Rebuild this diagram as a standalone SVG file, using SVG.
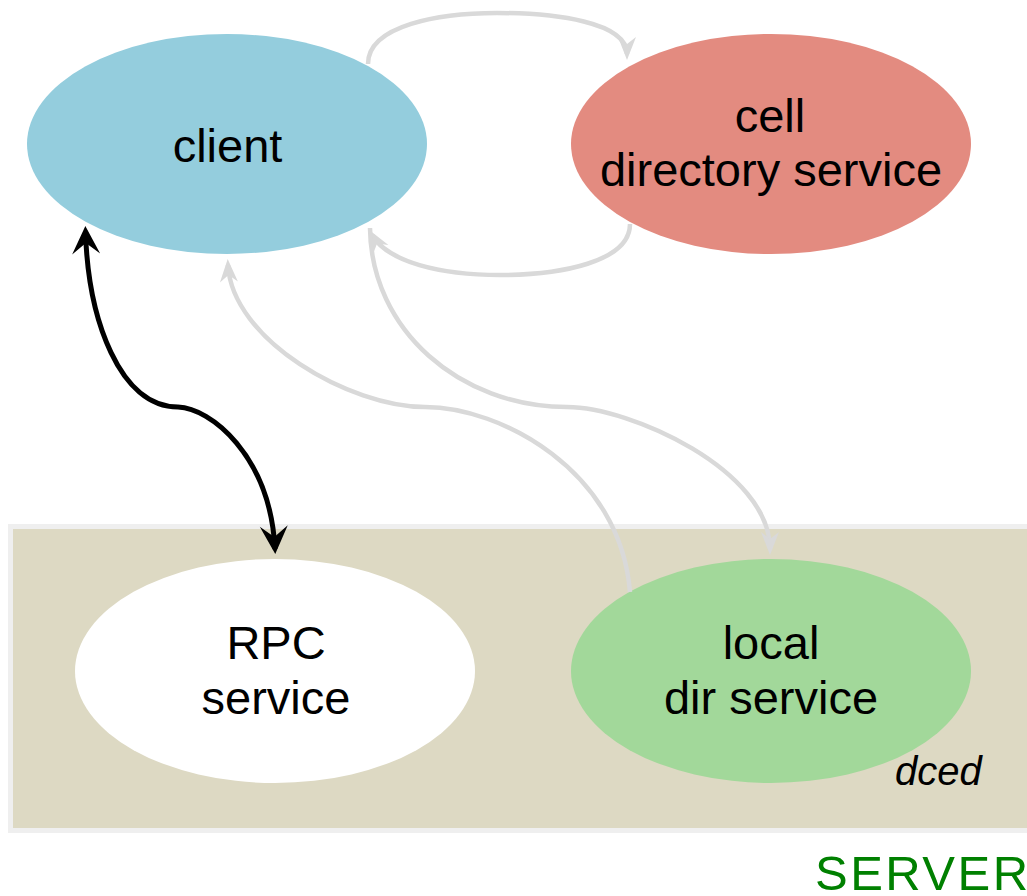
<svg xmlns="http://www.w3.org/2000/svg" width="1027" height="896" viewBox="0 0 1027 896">
  <style>
    .label { font-family: "Liberation Sans", Arial, sans-serif; font-size: 47px; fill: #000; text-anchor: middle; }
    .tag { font-family: "Liberation Sans", Arial, sans-serif; font-size: 40px; font-style: italic; fill: #000; }
    .host { font-family: "Liberation Sans", Arial, sans-serif; font-size: 49px; fill: #008000; letter-spacing: 2.5px; }
    .flow { fill: none; stroke: #d9d9d9; stroke-width: 4.5; }
    .rpc { fill: none; stroke: #000; stroke-width: 5; }
  </style>
  <defs>
    <marker id="headGray" markerUnits="userSpaceOnUse" markerWidth="40" markerHeight="40" refX="-6" refY="0" orient="auto" overflow="visible">
      <path d="M0,0 L-23,-9 L-16,0 L-23,9 Z" fill="#d9d9d9"/>
    </marker>
    <marker id="headBlack" markerUnits="userSpaceOnUse" markerWidth="40" markerHeight="40" refX="-5" refY="0" orient="auto-start-reverse" overflow="visible">
      <path d="M0,0 L-28,-14 L-17,0 L-28,14 Z" fill="#000"/>
    </marker>
  </defs>

  <rect width="1027" height="896" fill="#ffffff"/>

  <!-- server host area -->
  <g id="server">
    <rect x="10.5" y="526.5" width="1030" height="304" fill="#ddd9c3" stroke="#efefef" stroke-width="5"/>
    <text class="tag" x="895" y="785">dced</text>
    <text class="host" x="815" y="890">SERVER</text>
  </g>

  <g id="client">
    <ellipse cx="227" cy="144" rx="200" ry="110" fill="#94cddd"/>
    <text class="label" x="227.5" y="162">client</text>
  </g>

  <g id="cell-directory-service">
    <ellipse cx="771" cy="144" rx="200" ry="110" fill="#e38b80"/>
    <text class="label" x="770" y="132">cell</text>
    <text class="label" x="771" y="186">directory service</text>
  </g>

  <g id="rpc-service">
    <ellipse cx="275" cy="671" rx="200" ry="112" fill="#ffffff"/>
    <text class="label" x="276" y="659">RPC</text>
    <text class="label" x="276" y="714">service</text>
  </g>

  <g id="local-dir-service">
    <ellipse cx="771" cy="671" rx="200" ry="112" fill="#a2d89a"/>
    <text class="label" x="771" y="659">local</text>
    <text class="label" x="771" y="714">dir service</text>
  </g>

  <g id="connectors">
    <!-- client -> cell directory (lookup) -->
    <path class="flow" d="M368,64 C368,25 440,13 497,13 C555,13 627,22 627,54" marker-end="url(#headGray)"/>
    <!-- cell directory -> client (reply) -->
    <path class="flow" d="M630,224 C630,262 560,275 500,275 C440,275 388,262 372,235" marker-end="url(#headGray)"/>
    <!-- client -> local dir service -->
    <path class="flow" d="M370,228 C371,330 460,407 567,407 C630,407 770,470 770,549" marker-end="url(#headGray)"/>
    <!-- local dir service -> client -->
    <path class="flow" d="M630,592 C620,470 500,407 425,407 C350,407 232,340 228,265" marker-end="url(#headGray)"/>
    <!-- client <-> RPC service -->
    <path class="rpc" d="M85.5,231 C88,320 120,407 178,407 C210,408 270,455 275,549" marker-start="url(#headBlack)" marker-end="url(#headBlack)"/>
  </g>
</svg>
